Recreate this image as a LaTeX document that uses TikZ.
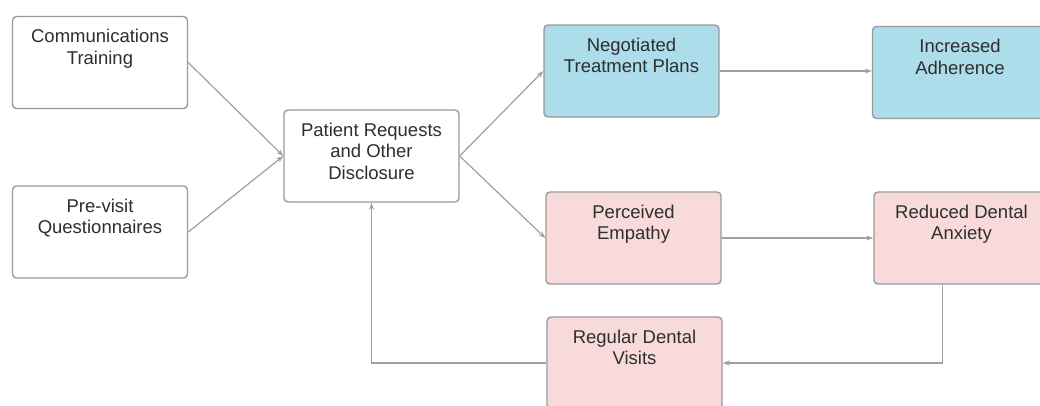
\documentclass[tikz,border=0pt]{standalone}
\usepackage{fontspec}
\setmainfont{Liberation Sans}
\usetikzlibrary{arrows.meta}
\definecolor{bordergray}{HTML}{9A9A9A}
\definecolor{linegray}{HTML}{A0A0A0}
\definecolor{textgray}{HTML}{2E2E2E}
\definecolor{boxblue}{HTML}{ADDCEA}
\definecolor{boxpink}{HTML}{F8DADA}
\newcommand{\boxtext}[1]{\parbox[c][92pt][t]{175pt}{\centering\fontsize{18.5}{21.5}\selectfont\rule{0pt}{26pt}#1}}
\tikzset{
  flowbox/.style={draw=bordergray, line width=1.4pt, rounded corners=4pt, inner sep=0pt, text=textgray},
  whitebox/.style={flowbox, fill=white},
  bluebox/.style={flowbox, fill=boxblue},
  pinkbox/.style={flowbox, fill=boxpink},
  conn/.style={draw=linegray, line width=1.2pt, -{Stealth[length=7pt,width=5pt]}}
}
\begin{document}
\begin{tikzpicture}[x=1pt,y=-1pt]
\useasboundingbox[fill=white] (0,0) rectangle (1040,405);
\node[whitebox] (comm) at (100,62.5) {\boxtext{Communications\\Training}};
\node[whitebox] (pre) at (100,232) {\boxtext{Pre-visit\\Questionnaires}};
\node[whitebox] (pat) at (371.5,156) {\boxtext{Patient Requests\\and Other\\Disclosure}};
\node[bluebox] (neg) at (631.5,71) {\boxtext{Negotiated\\Treatment Plans}};
\node[bluebox] (inc) at (960,72.5) {\boxtext{Increased\\Adherence}};
\node[pinkbox] (perc) at (633.5,238) {\boxtext{Perceived\\Empathy}};
\node[pinkbox] (red) at (961.5,238) {\boxtext{Reduced Dental\\Anxiety}};
\node[pinkbox] (reg) at (634.5,363) {\boxtext{Regular Dental\\Visits}};
\draw[conn] (comm.east) -- (pat.west);
\draw[conn] (pre.east) -- (pat.west);
\draw[conn] (pat.east) -- (neg.west);
\draw[conn] (pat.east) -- (perc.west);
\draw[conn] (neg.east) -- (neg.east -| inc.west);
\draw[conn] (perc.east) -- (red.west);
\draw[conn] ([xshift=-19pt]red.south) |- (reg.east);
\draw[conn] (reg.west) -| (pat.south);
\end{tikzpicture}
\end{document}
